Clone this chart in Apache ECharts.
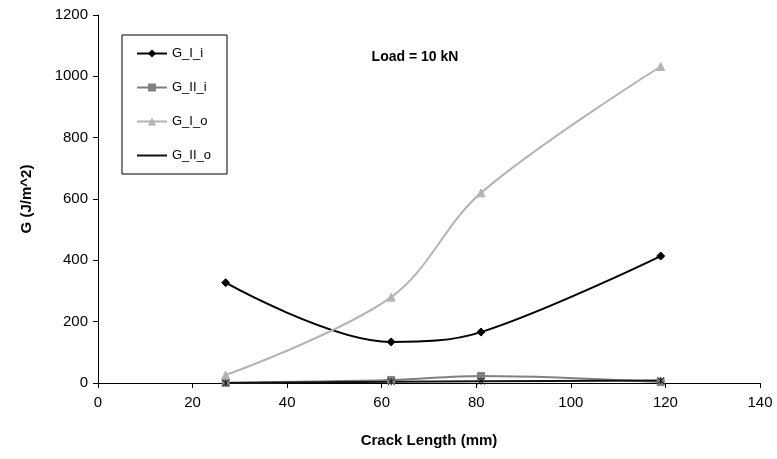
<!DOCTYPE html>
<html>
<head>
<meta charset="utf-8">
<script src="https://cdn.jsdelivr.net/npm/echarts@6/dist/echarts.min.js"></script>
<style>
html,body{margin:0;padding:0;background:#fff;}
#chart{width:777px;height:459px;}
</style>
</head>
<body>
<div id="chart"></div>
<script>
// crack length (mm)
var crackLen = [27, 62, 81, 119];
// G values (J/m^2)
var gIi = [327, 134, 166, 414];
var gIIi = [1, 10, 23, 3];
var gIo = [26, 280, 620, 1032];
var gIIo = [0, 4, 6, 8];
var seriesNames = ['G_I_i', 'G_II_i', 'G_I_o', 'G_II_o'];

function pairs(ys){
	var out = [];
	for(var i = 0; i < crackLen.length; i++){
		out.push([crackLen[i], ys[i]]);
	}
	return out;
}

function line(name, ys, color, symbol, size){
	return {
		name: name,
		type: 'line',
		smooth: 0.35,
		symbol: symbol,
		symbolSize: size,
		itemStyle: {color: color, borderColor: color},
		lineStyle: {color: color, width: 2},
		data: pairs(ys)
	};
}

var chart = echarts.init(document.getElementById('chart'));
chart.setOption({
	animation: false,
	textStyle: {fontFamily: 'Liberation Sans, Arial, sans-serif'},
	title: {
		text: 'Load = 10 kN',
		left: 410, top: 45,
		textAlign: 'center',
		textStyle: {fontSize: 14, fontWeight: 'bold', color: '#000'}
	},
	legend: {
		orient: 'vertical',
		left: 122, top: 35,
		padding: [12, 16, 12, 14],
		itemGap: 21,
		itemWidth: 30, itemHeight: 10,
		borderColor: '#000', borderWidth: 1,
		textStyle: {fontSize: 13, color: '#000'},
		data: seriesNames
	},
	grid: {left: 98, right: 17, top: 15, bottom: 76},
	xAxis: {
		type: 'value',
		min: 0, max: 140, interval: 20,
		name: 'Crack Length (mm)',
		nameLocation: 'middle',
		nameGap: 50,
		nameTextStyle: {fontSize: 15, fontWeight: 'bold', color: '#000'},
		axisLine: {lineStyle: {color: '#000', width: 1}},
		axisTick: {show: true, length: 5, inside: false, lineStyle: {color: '#000'}},
		axisLabel: {fontSize: 15, color: '#000', margin: 12},
		splitLine: {show: false}
	},
	yAxis: {
		type: 'value',
		min: 0, max: 1200, interval: 200,
		name: 'G (J/m^2)',
		nameLocation: 'middle',
		nameGap: 64,
		nameTextStyle: {fontSize: 15, fontWeight: 'bold', color: '#000'},
		axisLine: {show: true, lineStyle: {color: '#000', width: 1}},
		axisTick: {show: true, length: 5, lineStyle: {color: '#000'}},
		axisLabel: {fontSize: 15, color: '#000', margin: 10, formatter: function(v){ return String(v); }},
		splitLine: {show: false}
	},
	series: [
		line(seriesNames[0], gIi, '#000000', 'diamond', 8),
		line(seriesNames[1], gIIi, '#808080', 'rect', 7),
		line(seriesNames[2], gIo, '#b3b3b3', 'triangle', 8),
		line(seriesNames[3], gIIo, '#111111', 'path://M0,0L10,10M10,0L0,10M5,0L5,10', 7)
	]
});
</script>
</body>
</html>
